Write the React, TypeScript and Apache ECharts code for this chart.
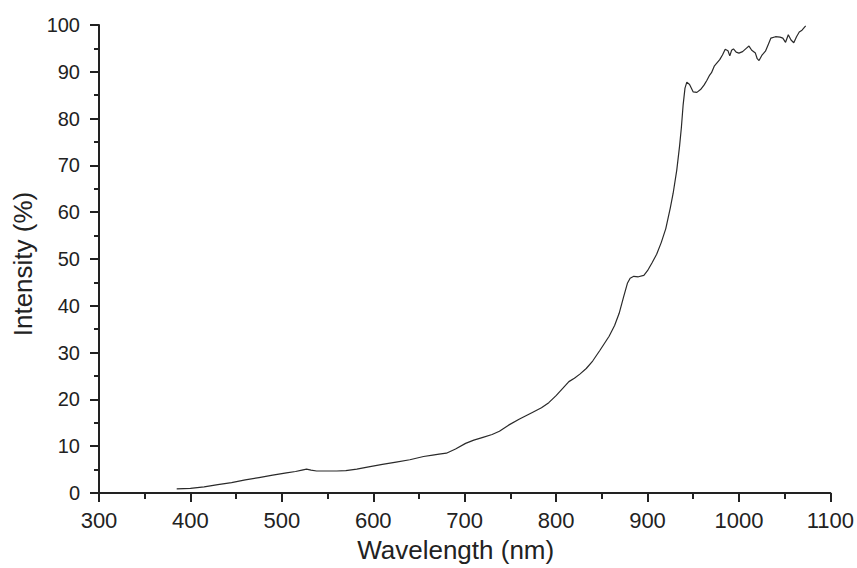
import React, { useEffect, useRef } from "react";
import * as echarts from "echarts";

const wavelengths: number[] = [
  385, 400, 415, 430, 445, 460, 475, 490, 505, 515,
  522, 527, 532, 538, 550, 560, 570, 582, 595, 610,
  625, 640, 655, 665, 672, 680, 690, 701, 710, 720,
  730, 738, 748, 760, 774, 784, 792, 800, 808, 814,
  820, 826, 833, 840, 848, 858, 864, 869, 874, 878,
  881, 885, 890, 896, 900, 905, 910, 915, 920, 925,
  928, 932, 935, 937, 939, 941, 943, 946, 950, 954,
  958, 962, 965, 968, 970, 973, 976, 979, 982, 985,
  988, 990, 992, 994, 997, 1000, 1004, 1008, 1011, 1014,
  1018, 1020, 1022, 1025, 1029, 1032, 1035, 1040, 1045, 1048,
  1051, 1054, 1057, 1060, 1063, 1066, 1069, 1073,
];

const intensity: number[] = [
  0.9, 1.0, 1.3, 1.8, 2.2, 2.8, 3.3, 3.8, 4.3, 4.6,
  4.9, 5.1, 4.9, 4.7, 4.7, 4.7, 4.8, 5.1, 5.6, 6.1,
  6.6, 7.1, 7.8, 8.1, 8.3, 8.5, 9.4, 10.6, 11.3, 11.9,
  12.5, 13.2, 14.5, 15.8, 17.2, 18.2, 19.3, 20.8, 22.5, 23.8,
  24.5, 25.4, 26.6, 28.2, 30.5, 33.5, 35.8, 38.4, 42, 44.8,
  45.9, 46.3, 46.2, 46.5, 47.5, 49.2, 51, 53.5, 56.5, 61,
  64, 69, 74, 78, 83, 86.5, 87.8, 87.3, 85.7, 85.6,
  86.2, 87.2, 88.2, 89.3, 89.8, 91.2, 91.9, 92.6, 93.6, 94.8,
  94.5, 93.4, 94.6, 94.9, 94.2, 94.0, 94.3, 95.0, 95.5, 94.6,
  94.0, 92.8, 92.4, 93.5, 94.4, 95.8, 97.2, 97.5, 97.4, 97.2,
  96.3, 97.9, 96.8, 96.2, 97.5, 98.5, 98.9, 99.8,
];

const xTitle = "Wavelength (nm)";
const yTitle = "Intensity (%)";

export default function App() {
  const ref = useRef<HTMLDivElement>(null);
  useEffect(() => {
    if (!ref.current) return;
    const chart = echarts.init(ref.current, undefined, { renderer: "svg" });
    const data = wavelengths.map((w, i) => [w, intensity[i]]);
    const axisColor = "#222";
    const font = "Liberation Sans, Arial, sans-serif";
    chart.setOption({
      animation: false,
      backgroundColor: "#ffffff",
      grid: { left: 99, right: 25, top: 25, bottom: 71, containLabel: false },
      xAxis: {
        type: "value",
        min: 300,
        max: 1100,
        interval: 100,
        name: xTitle,
        nameLocation: "middle",
        nameGap: 44,
        nameTextStyle: { fontSize: 26, color: axisColor, fontFamily: font, padding: [0, 18, 0, 0] },
        axisLine: { show: true, onZero: false, lineStyle: { color: axisColor, width: 2 } },
        axisTick: { show: true, inside: false, length: 9, lineStyle: { color: axisColor, width: 2 } },
        minorTick: { show: true, splitNumber: 2, length: 6, lineStyle: { color: axisColor, width: 2 } },
        axisLabel: {
          margin: 16,
          fontSize: 22,
          color: axisColor,
          fontFamily: font,
          formatter: (v: number) => String(v),
        },
        splitLine: { show: false },
        minorSplitLine: { show: false },
      },
      yAxis: {
        type: "value",
        min: 0,
        max: 100,
        interval: 10,
        name: yTitle,
        nameLocation: "middle",
        nameGap: 61,
        nameRotate: 90,
        nameTextStyle: { fontSize: 26, color: axisColor, fontFamily: font, padding: [0, 10, 0, 0] },
        axisLine: { show: true, onZero: false, lineStyle: { color: axisColor, width: 2 } },
        axisTick: { show: true, inside: false, length: 9, lineStyle: { color: axisColor, width: 2 } },
        minorTick: { show: true, splitNumber: 2, length: 5, lineStyle: { color: axisColor, width: 2 } },
        axisLabel: {
          margin: 19,
          fontSize: 20,
          color: axisColor,
          fontFamily: font,
          formatter: (v: number) => String(v),
        },
        splitLine: { show: false },
        minorSplitLine: { show: false },
      },
      series: [
        {
          type: "line",
          data,
          showSymbol: false,
          smooth: false,
          lineStyle: { color: "#2a2a2a", width: 1.2 },
        },
      ],
    });
    return () => chart.dispose();
  }, []);
  return (
    <div
      ref={ref}
      style={{ position: "absolute", left: 0, top: 0, width: 857, height: 568, background: "#fff" }}
    />
  );
}
